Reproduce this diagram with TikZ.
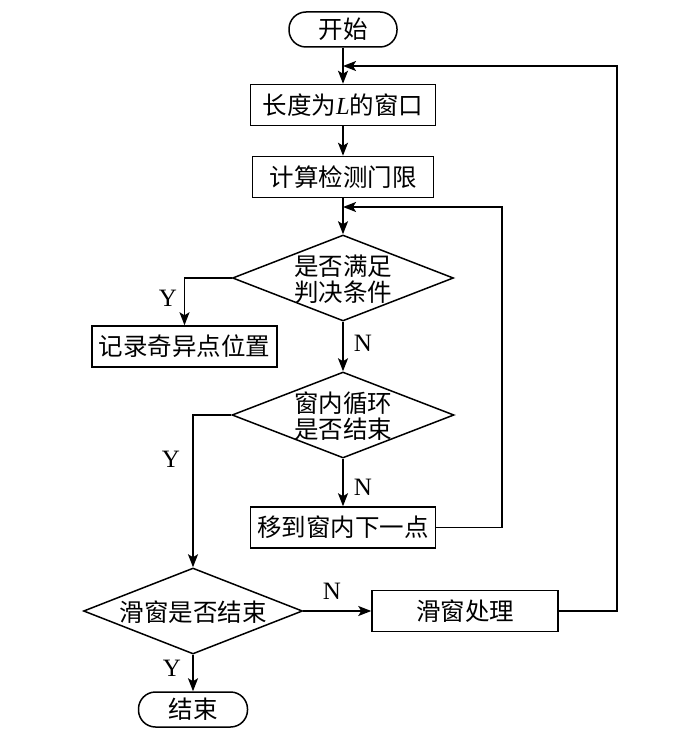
\documentclass[tikz,border=0pt]{standalone}
\usepackage{fontspec}
\setmainfont{Liberation Serif}
\newfontfamily\cjk{Noto Sans CJK SC}
\usetikzlibrary{shapes.geometric,arrows.meta}
\begin{document}
\begin{tikzpicture}[x=1pt,y=-1pt,
  every node/.style={font=\fontsize{24.5pt}{26pt}\selectfont\cjk},
  box/.style={draw, line width=1.5pt, minimum height=41pt, inner sep=0pt},
  term/.style={draw, line width=1.5pt, rounded corners=17pt, minimum width=108pt, minimum height=35pt, inner sep=0pt},
  dia/.style={draw, diamond, line width=1.5pt, inner sep=0pt},
  lab/.style={font=\fontsize{25pt}{26pt}\selectfont\rmfamily},
  conn/.style={line width=1.5pt, -{Stealth[length=13pt,width=10pt,inset=3pt]}},
  plainline/.style={line width=1.5pt}]
\useasboundingbox (0,0) rectangle (700,735);
\fill[white] (0,0) rectangle (700,735);
% nodes
\node[term] (start) at (343,29.5) {开始};
\node[box, minimum width=185pt] (win) at (343,105) {长度为{\rmfamily\itshape L}的窗口};
\node[box, minimum width=181pt] (calc) at (343,177) {计算检测门限};
\node[dia, minimum width=221pt, minimum height=86pt] (d1) at (343,278) {};
\node[align=center] (d1t) at (343,279) {是否满足\\判决条件};
\node[box, minimum width=185pt] (rec) at (184.5,346.5) {记录奇异点位置};
\node[dia, minimum width=222pt, minimum height=86pt] (d2) at (343,415) {};
\node[align=center] (d2t) at (343,416) {窗内循环\\是否结束};
\node[box, minimum width=185pt] (move) at (343,527.5) {移到窗内下一点};
\node[dia, minimum width=219pt, minimum height=86pt] (d3) at (193,611) {};
\node (d3t) at (193,612) {滑窗是否结束};
\node[box, minimum width=186pt] (slide) at (465,611) {滑窗处理};
\node[term, minimum width=109pt] (end) at (193,709.5) {结束};
% junctions
\coordinate (j1) at (343,66);
\coordinate (j1c) at (617,66);
\coordinate (j2) at (343,207);
\coordinate (j2c) at (502,207);
% connectors
\draw[conn] (start) -- (win);
\draw[conn] (win) -- (calc);
\draw[conn] (calc) -- (d1);
\draw[conn] (d1.west) -| (rec.north);
\draw[conn] (d1.south) -- (d2.north);
\draw[conn] (d2.west) -| (d3.north);
\draw[conn] (d2.south) -- (move.north);
\draw[conn] (move.east) -| (j2c) -- (j2);
\draw[conn] (d3.east) -- (slide.west);
\draw[conn] (slide.east) -| (j1c) -- (j1);
\draw[conn] (d3.south) -- (end.north);
% labels
\node[lab] (ly1) at (168,298) {Y};
\node[lab] (ln1) at (363,343) {N};
\node[lab] (ly2) at (171,459) {Y};
\node[lab] (ln2) at (363,487) {N};
\node[lab] (ln3) at (332,591) {N};
\node[lab] (ly3) at (172,668) {Y};
\end{tikzpicture}
\end{document}
